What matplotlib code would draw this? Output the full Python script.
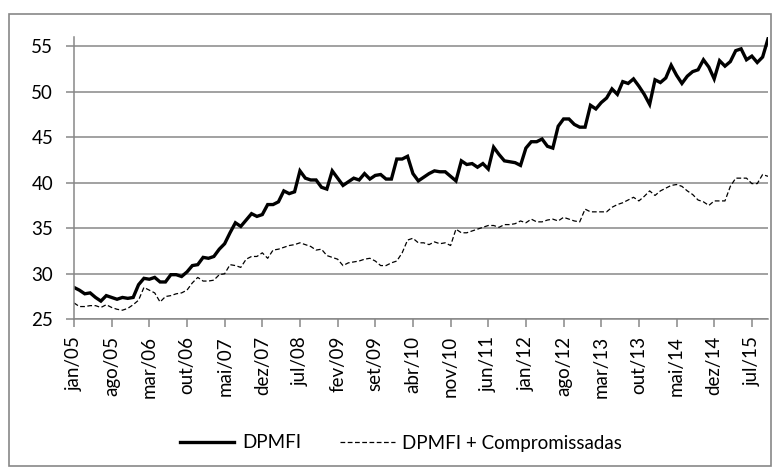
import numpy as np
import matplotlib.pyplot as plt
from matplotlib.patches import Rectangle

# monthly series, jan/05 .. out/15
dpmfi = [28.5, 28.2, 27.8, 27.9, 27.4, 27.0, 27.6, 27.4, 27.2, 27.4, 27.3, 27.4,
         28.8, 29.5, 29.4, 29.6, 29.1, 29.1, 29.9, 29.9, 29.7, 30.2, 30.9, 31.0,
         31.8, 31.7, 31.9, 32.7, 33.3, 34.5, 35.6, 35.2, 35.9, 36.6, 36.3, 36.5,
         37.6, 37.6, 37.9, 39.1, 38.8, 39.0, 41.3, 40.5, 40.3, 40.3, 39.5, 39.3,
         41.3, 40.5, 39.7, 40.1, 40.5, 40.3, 41.0, 40.4, 40.8, 40.9, 40.4, 40.4,
         42.6, 42.6, 42.9, 41.0, 40.2, 40.6, 41.0, 41.3, 41.2, 41.2, 40.7, 40.2,
         42.4, 42.0, 42.1, 41.7, 42.1, 41.5, 43.9, 43.1, 42.4, 42.3, 42.2, 41.9,
         43.8, 44.5, 44.5, 44.8, 44.0, 43.8, 46.2, 47.0, 47.0, 46.4, 46.1, 46.1,
         48.5, 48.1, 48.8, 49.3, 50.3, 49.7, 51.1, 50.9, 51.4, 50.6, 49.7, 48.6,
         51.3, 51.0, 51.5, 52.9, 51.8, 50.9, 51.7, 52.2, 52.4, 53.5, 52.7, 51.4,
         53.4, 52.8, 53.3, 54.5, 54.7, 53.5, 53.9, 53.2, 53.8, 55.8]

dpmfi_comp = [26.8, 26.4, 26.4, 26.5, 26.5, 26.3, 26.6, 26.3, 26.1, 26.0, 26.2, 26.6,
              27.1, 28.5, 28.2, 27.9, 26.9, 27.5, 27.6, 27.8, 27.9, 28.2, 29.0, 29.6,
              29.2, 29.2, 29.3, 29.9, 30.0, 31.0, 30.9, 30.7, 31.6, 31.9, 31.9, 32.3,
              31.7, 32.6, 32.7, 32.9, 33.1, 33.2, 33.4, 33.2, 33.0, 32.6, 32.7, 32.0,
              31.8, 31.6, 30.9, 31.2, 31.3, 31.4, 31.6, 31.7, 31.4, 30.9, 30.9, 31.2,
              31.4, 32.3, 33.7, 33.9, 33.4, 33.4, 33.2, 33.5, 33.3, 33.4, 33.1, 34.9,
              34.5, 34.5, 34.7, 34.9, 35.1, 35.3, 35.3, 35.1, 35.4, 35.4, 35.5, 35.8,
              35.6, 36.0, 35.7, 35.7, 35.9, 36.0, 35.8, 36.2, 36.0, 35.8, 35.7, 37.1,
              36.8, 36.8, 36.8, 36.8, 37.3, 37.6, 37.8, 38.1, 38.4, 38.0, 38.5, 39.1,
              38.6, 39.1, 39.4, 39.7, 39.8, 39.6, 39.1, 38.7, 38.1, 37.9, 37.5, 38.0,
              38.0, 38.0, 39.6, 40.5, 40.5, 40.5, 39.9, 39.9, 40.9, 40.7]

tick_labels = ["jan/05", "ago/05", "mar/06", "out/06", "mai/07", "dez/07", "jul/08",
               "fev/09", "set/09", "abr/10", "nov/10", "jun/11", "jan/12", "ago/12",
               "mar/13", "out/13", "mai/14", "dez/14", "jul/15"]
tick_step = 7  # months between labels

plt.rcParams["font.family"] = ["Lato", "DejaVu Sans"]
grey = "#878787"
fs = 13.5

fig = plt.figure(figsize=(7.81, 4.75), dpi=100)
ax = fig.add_axes([74/781, 1 - 319.3/475, (768 - 74)/781, (319.3 - 37)/475])

x = np.arange(len(dpmfi))
ax.plot(x, dpmfi, color="black", lw=2.4, solid_joinstyle="miter", label="DPMFI")
ax.plot(x, dpmfi_comp, color="black", lw=0.9, dashes=(3.8, 2),
        label="DPMFI + Compromissadas")

ax.set_xlim(0, len(dpmfi) - 1)
ax.set_ylim(25, 56)
ax.set_yticks(range(25, 56, 5))
ax.set_xticks(np.arange(len(tick_labels)) * tick_step)
ax.set_xticklabels(tick_labels, rotation=90)
ax.grid(axis="y", color=grey, lw=1.1)
ax.set_axisbelow(True)

for s in ["top", "right"]:
    ax.spines[s].set_visible(False)
for s in ["left", "bottom"]:
    ax.spines[s].set_color(grey)
    ax.spines[s].set_linewidth(1.1)
ax.tick_params(axis="both", direction="out", length=6, width=1.1, color=grey,
               labelsize=fs)
ax.tick_params(axis="y", pad=9)
ax.tick_params(axis="x", pad=6)

fig.legend(loc="center", bbox_to_anchor=(401/781, 1 - 443/475), ncol=2,
           frameon=False, fontsize=fs, handlelength=2.9, handletextpad=0.4,
           columnspacing=2.1)

fig.patches.append(Rectangle((9/781, 9/475), 762/781, 452/475, transform=fig.transFigure,
                             fill=False, edgecolor=grey, lw=1.2))

fig.savefig("out.png", dpi=100)
